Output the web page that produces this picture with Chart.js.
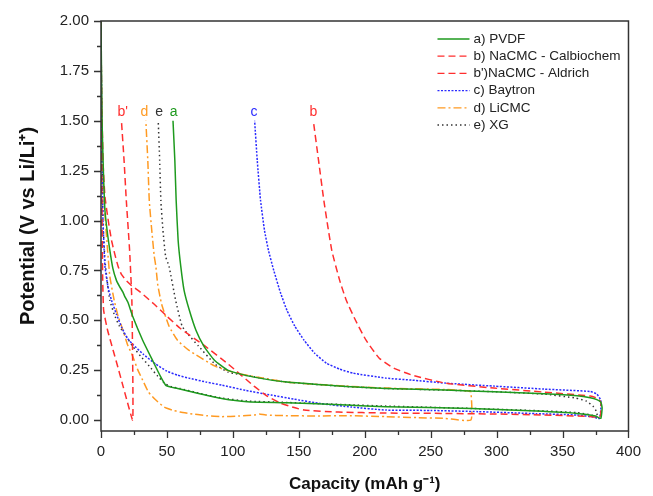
<!DOCTYPE html>
<html>
<head>
<meta charset="utf-8">
<script src="https://cdn.jsdelivr.net/npm/chart.js@4.4.1/dist/chart.umd.min.js"></script>
<style>
  html, body { margin: 0; padding: 0; background: #fff; }
  #wrap { width: 653px; height: 496px; }
</style>
</head>
<body>
<div id="wrap"><canvas id="capChart" width="653" height="496"></canvas></div>
<script>
// --- data: capacity (mAh/g) and potential (V), discharge then charge ---
const seriesLabels = ['a) PVDF', 'b) NaCMC - Calbiochem', "b')NaCMC - Aldrich", 'c) Baytron', 'd) LiCMC', 'e) XG'];
const curveTags = ['a', 'b', "b'", 'c', 'd', 'e'];

const pvdfCap = [0, 0.3, 0.8, 1.8, 3, 5, 6.7, 9, 11.7, 14, 16.7, 18, 20.4, 24, 31.6, 39, 45, 49, 53, 56.6, 74, 91.5, 111, 141, 186, 216, 281, 330, 361, 375, 379,
                 380, 379, 376, 371, 361, 336, 298, 261, 216, 186, 141, 116, 103, 96, 86, 78, 72, 67, 63, 60.5, 58.5, 57, 56, 54.6];
const pvdfV   = [2.0, 1.8, 1.5, 1.25, 1.05, 0.93, 0.85, 0.76, 0.70, 0.67, 0.64, 0.62, 0.59, 0.52, 0.40, 0.30, 0.22, 0.175, 0.165, 0.16, 0.133, 0.108, 0.092, 0.087, 0.075, 0.067, 0.058, 0.045, 0.033, 0.02, 0.008,
                 0.06, 0.09, 0.102, 0.112, 0.122, 0.132, 0.142, 0.15, 0.158, 0.168, 0.19, 0.215, 0.235, 0.25, 0.30, 0.37, 0.45, 0.55, 0.65, 0.77, 0.9, 1.1, 1.3, 1.5];

const calbioCap = [0, 0.5, 1.7, 3, 5.5, 8, 10.5, 13, 15.5, 19, 23, 30, 40.4, 50, 60, 79, 96.5, 116, 126, 136, 145, 154, 180, 216, 261, 300, 336, 370, 378,
                   379, 379, 376, 371, 336, 298, 261, 236, 222, 211, 201, 193, 186, 181, 175, 169, 165, 161];
const calbioV   = [2.0, 1.6, 1.27, 1.12, 1.0, 0.9, 0.83, 0.77, 0.73, 0.70, 0.675, 0.64, 0.58, 0.52, 0.46, 0.37, 0.28, 0.17, 0.12, 0.085, 0.065, 0.05, 0.04, 0.035, 0.033, 0.03, 0.025, 0.018, 0.015,
                   0.03, 0.09, 0.11, 0.12, 0.14, 0.16, 0.185, 0.225, 0.26, 0.31, 0.40, 0.50, 0.60, 0.70, 0.85, 1.1, 1.3, 1.5];

const aldrichCap = [0, 0.3, 0.8, 1.3, 2, 5, 9.2, 13, 16.7, 20, 24,
                    24.2, 24, 23.4, 21.7, 19.2, 17.5, 15.5];
const aldrichV   = [2.0, 1.5, 1.0, 0.7, 0.55, 0.45, 0.35, 0.26, 0.17, 0.09, 0.0,
                    0.15, 0.3, 0.6, 0.85, 1.1, 1.3, 1.5];

const baytronCap = [0, 0.3, 0.8, 1.5, 3, 5.5, 8, 11.7, 16, 20, 24, 32, 41.6, 50, 58, 66.5, 80, 91.5, 110, 129, 146, 166, 190, 216, 250, 286, 330, 361, 374, 378,
                    379, 379, 376, 371, 336, 298, 261, 236, 216, 191, 181, 171, 162, 154, 147, 141, 136, 131, 127, 124, 121, 118.5, 116.5];
const baytronV   = [2.0, 1.7, 1.3, 1.0, 0.77, 0.66, 0.6, 0.53, 0.46, 0.41, 0.38, 0.33, 0.28, 0.245, 0.225, 0.21, 0.19, 0.175, 0.148, 0.125, 0.105, 0.083, 0.065, 0.05, 0.048, 0.042, 0.032, 0.025, 0.015, 0.008,
                    0.05, 0.1, 0.13, 0.143, 0.155, 0.17, 0.185, 0.20, 0.21, 0.235, 0.255, 0.285, 0.335, 0.40, 0.47, 0.55, 0.64, 0.75, 0.85, 0.95, 1.1, 1.3, 1.5];

const licmcCap = [0, 0.3, 1, 3, 5, 6.7, 10, 13, 16.7, 20, 24, 28, 31.6, 36, 41.6, 48, 54, 60, 66.5, 80, 91.5, 105, 116, 120, 125, 140, 166, 186, 216, 240, 261, 280.5,
                  280.5, 278, 261, 216, 186, 141, 104, 86.5, 66.5, 58, 51.6, 46, 43, 41.6, 40.4, 38.5, 36.6, 35.5, 34];
const licmcV   = [2.0, 1.7, 1.3, 1.03, 0.85, 0.72, 0.6, 0.52, 0.45, 0.38, 0.32, 0.25, 0.2, 0.14, 0.1, 0.065, 0.05, 0.04, 0.033, 0.022, 0.017, 0.02, 0.025, 0.03, 0.025, 0.022, 0.02, 0.022, 0.017, 0.012, 0.008, 0.0,
                  0.14, 0.147, 0.153, 0.16, 0.17, 0.19, 0.233, 0.27, 0.35, 0.4, 0.47, 0.58, 0.68, 0.77, 0.82, 0.95, 1.1, 1.3, 1.5];

const xgCap = [0, 0.3, 0.8, 1.5, 3, 5, 6.7, 10, 14, 19, 24, 30, 36.6, 43, 49, 54, 60, 74, 91.5, 111, 141, 186, 216, 281, 330, 361, 372, 376,
               376, 373, 368, 360, 336, 298, 261, 216, 186, 141, 116, 96.4, 86.5, 74, 66, 61.5, 56.6, 51.6, 49, 47, 45.4, 44.5, 43.4];
const xgV   = [2.0, 1.7, 1.3, 1.0, 0.8, 0.68, 0.6, 0.53, 0.47, 0.42, 0.37, 0.32, 0.27, 0.22, 0.18, 0.165, 0.158, 0.135, 0.11, 0.095, 0.088, 0.077, 0.07, 0.058, 0.047, 0.037, 0.025, 0.01,
               0.04, 0.07, 0.095, 0.11, 0.13, 0.142, 0.15, 0.158, 0.168, 0.19, 0.217, 0.24, 0.28, 0.37, 0.43, 0.47, 0.6, 0.77, 0.82, 0.95, 1.1, 1.3, 1.5];

// where the letter tags sit (capacity at 1.5 V end of the charge curves)
const tagCap = [55, 161, 16.5, 116, 33, 44];

const xTicks = [0, 50, 100, 150, 200, 250, 300, 350, 400];
const yTicks = [0, 0.25, 0.5, 0.75, 1.0, 1.25, 1.5, 1.75, 2.0];

const colors = ['#1e9a1e', '#ff2e2e', '#ff2e2e', '#2b2bff', '#ff9a22', '#333333'];
const dashes = [[], [7, 4], [7, 4], [2, 1.5], [8, 3, 2, 3], [1.5, 3]];

const FONT = "'Liberation Sans', Arial, sans-serif";

const toPts = (xs, ys) => xs.map((x, i) => ({ x: x, y: ys[i] }));
const curves = [
    toPts(pvdfCap, pvdfV),
    toPts(calbioCap, calbioV),
    toPts(aldrichCap, aldrichV),
    toPts(baytronCap, baytronV),
    toPts(licmcCap, licmcV),
    toPts(xgCap, xgV)
];

// frame, tick marks, letter tags and legend drawn on top
const decorPlugin = {
    id: 'decor',
    afterDraw(chart) {
        const ctx = chart.ctx;
        const area = chart.chartArea;
        const xs = chart.scales.x;
        const ys = chart.scales.y;
        ctx.save();

        ctx.strokeStyle = '#333';
        ctx.lineWidth = 1.5;
        ctx.strokeRect(area.left, area.top, area.right - area.left, area.bottom - area.top);

        ctx.lineWidth = 1.3;
        ctx.beginPath();
        for (let v = 0; v <= 400; v += 25) {
            const px = Math.round(xs.getPixelForValue(v)) + 0.5;
            const len = v % 50 === 0 ? 7 : 4;
            ctx.moveTo(px, area.bottom);
            ctx.lineTo(px, area.bottom + len);
        }
        for (let k = 0; k <= 16; k++) {
            const py = Math.round(ys.getPixelForValue(k * 0.125)) + 0.5;
            const len = k % 2 === 0 ? 7 : 4;
            ctx.moveTo(area.left, py);
            ctx.lineTo(area.left - len, py);
        }
        ctx.stroke();

        // letter tags
        ctx.font = '14px ' + FONT;
        ctx.textAlign = 'center';
        ctx.textBaseline = 'alphabetic';
        curveTags.forEach((t, i) => {
            ctx.fillStyle = colors[i];
            ctx.fillText(t, xs.getPixelForValue(tagCap[i]), ys.getPixelForValue(1.525));
        });

        // legend
        const lx = area.right - 191;
        const ly = area.top + 18;
        ctx.font = '13.5px ' + FONT;
        ctx.textAlign = 'left';
        ctx.textBaseline = 'middle';
        seriesLabels.forEach((lab, i) => {
            const y = ly + i * 17.2;
            ctx.strokeStyle = colors[i];
            ctx.lineWidth = 1.3;
            ctx.setLineDash(dashes[i]);
            ctx.beginPath();
            ctx.moveTo(lx, y);
            ctx.lineTo(lx + 32, y);
            ctx.stroke();
            ctx.setLineDash([]);
            ctx.fillStyle = '#222';
            ctx.fillText(lab, lx + 36, y);
        });
        ctx.restore();
    }
};

new Chart(document.getElementById('capChart'), {
    type: 'scatter',
    data: {
        datasets: curves.map((pts, i) => ({
            label: seriesLabels[i],
            data: pts,
            showLine: true,
            borderColor: colors[i],
            borderWidth: 1.5,
            borderDash: dashes[i],
            pointRadius: 0,
            tension: 0.15,
            fill: false
        }))
    },
    options: {
        responsive: false,
        animation: false,
        layout: { padding: { left: 0, top: 21, right: 17, bottom: 0 } },
        scales: {
            x: {
                type: 'linear',
                min: 0,
                max: 400,
                afterBuildTicks: s => { s.ticks = xTicks.map(v => ({ value: v })); },
                afterFit: s => { s.height = 65; },
                grid: { display: false, drawTicks: false },
                border: { display: false },
                ticks: {
                    color: '#222',
                    padding: 12,
                    maxRotation: 0,
                    font: { family: FONT, size: 15 },
                    callback: v => String(v)
                },
                title: {
                    display: true,
                    text: 'Capacity (mAh g\u207B\u00B9)',
                    color: '#111',
                    padding: { top: 0, bottom: 1 },
                    font: { family: FONT, size: 17, weight: 'bold' }
                }
            },
            y: {
                type: 'linear',
                min: -0.055,
                max: 2.0,
                afterBuildTicks: s => { s.ticks = yTicks.map(v => ({ value: v })); },
                afterFit: s => { s.width = 101; },
                grid: { display: false, drawTicks: false },
                border: { display: false },
                ticks: {
                    color: '#222',
                    padding: 12,
                    font: { family: FONT, size: 15 },
                    callback: v => Number(v).toFixed(2)
                },
                title: {
                    display: true,
                    text: 'Potential (V vs Li/Li\u207A)',
                    color: '#111',
                    padding: { top: 16, bottom: 0 },
                    font: { family: FONT, size: 20, weight: 'bold' }
                }
            }
        },
        plugins: {
            legend: { display: false },
            tooltip: { enabled: false }
        }
    },
    plugins: [decorPlugin]
});
</script>
</body>
</html>
